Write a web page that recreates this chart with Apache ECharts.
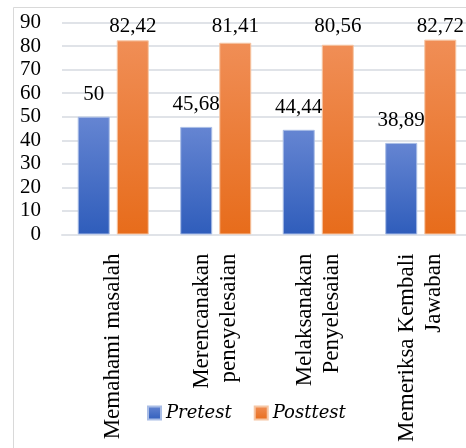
<!DOCTYPE html>
<html>
<head>
<meta charset="utf-8">
<script src="https://cdn.jsdelivr.net/npm/echarts@6/dist/echarts.min.js"></script>
<style>html,body{margin:0;padding:0;background:#fff}#c{width:466px;height:448px}</style>
</head>
<body>
<div id="c"></div>
<script>
var categories = ['Memahami masalah', 'Merencanakan\npeneyelesaian', 'Melaksanakan\nPenyelesaian', 'Memeriksa Kembali\nJawaban'];
var pretest = [50, 45.68, 44.44, 38.89];
var posttest = [82.42, 81.41, 80.56, 82.72];
var yTicks = [0, 10, 20, 30, 40, 50, 60, 70, 80, 90];

var FONT = 'Liberation Serif';
var ITALIC_FONT = 'DejaVu Serif';
var CAT_SIZE = 23;
function grad(top, bottom) {
  return new echarts.graphic.LinearGradient(0, 0, 0, 1, [
    { offset: 0, color: top }, { offset: 1, color: bottom }
  ]);
}
function fmtNum(v) { return String(v).replace('.', ','); }

// centre shorter lines of each category label with a transparent leading filler token
var ctx = document.createElement('canvas').getContext('2d');
ctx.font = CAT_SIZE + 'px "' + FONT + '"';
var spaceW = ctx.measureText('\u00a0').width || CAT_SIZE * 0.25;
var rich = { c: { fontFamily: FONT, fontSize: CAT_SIZE, lineHeight: 27, color: '#000' } };
var catText = {};
categories.forEach(function (cat, ci) {
  var lines = cat.split('\n');
  var widths = lines.map(function (s) { return ctx.measureText(s).width; });
  var maxW = Math.max.apply(null, widths);
  catText[cat] = lines.map(function (s, li) {
    var pad = (maxW - widths[li]) / 2;
    var out = '';
    if (pad > 1) {
      var key = 'f' + ci + '_' + li;
      var n = Math.max(1, Math.round(pad / spaceW));
      rich[key] = { fontFamily: FONT, fontSize: CAT_SIZE, lineHeight: 27, color: 'rgba(0,0,0,0)', width: pad };
      out += '{' + key + '|' + new Array(n + 1).join('\u00a0') + '}';
    }
    return out + '{c|' + s + '}';
  }).join('\n');
});

var chart = echarts.init(document.getElementById('c'), null, { renderer: 'canvas' });
chart.setOption({
  animation: false,
  backgroundColor: '#fff',
  textStyle: { fontFamily: FONT },
  graphic: [{
    type: 'rect', silent: true, z: -10,
    shape: { x: 13.5, y: 7.5, width: 600, height: 600 },
    style: { fill: 'none', stroke: '#d9d9d9', lineWidth: 1 }
  }],
  grid: { left: 62, top: 22.5, width: 410, height: 212, outerBoundsMode: 'none', containLabel: false },
  legend: {
    left: 147, top: 404, padding: 0,
    itemWidth: 13, itemHeight: 13, itemGap: 22,
    icon: 'rect',
    textStyle: { fontFamily: ITALIC_FONT, fontSize: 18, fontStyle: 'italic', color: '#000' },
    data: ['Pretest', 'Posttest']
  },
  xAxis: {
    type: 'category',
    data: categories,
    axisLine: { lineStyle: { color: '#e0e3e8', width: 2 } },
    axisTick: { show: false },
    axisLabel: {
      rotate: 90, margin: 19, interval: 0,
      formatter: function (v) { return catText[v]; },
      rich: rich
    }
  },
  yAxis: {
    type: 'value', min: yTicks[0], max: yTicks[yTicks.length - 1], interval: 10,
    axisLine: { show: false }, axisTick: { show: false },
    splitLine: { lineStyle: { color: '#e0e3e8', width: 2 } },
    axisLabel: { fontFamily: FONT, fontSize: 21, color: '#000', margin: 21 }
  },
  series: [{
    name: 'Pretest', type: 'bar', data: pretest,
    barWidth: 32, barGap: '22%',
    itemStyle: { color: grad('#6585d2', '#2f5dbb'), borderColor: '#a9bde6', borderWidth: 1 },
    label: { show: true, position: 'top', distance: 12, fontFamily: FONT, fontSize: 21, color: '#000',
      formatter: function (p) { return fmtNum(p.value); } }
  }, {
    name: 'Posttest', type: 'bar', data: posttest,
    barWidth: 32,
    itemStyle: { color: grad('#f08e56', '#e76c1b'), borderColor: '#f6c6a4', borderWidth: 1 },
    label: { show: true, position: 'top', distance: 8, fontFamily: FONT, fontSize: 21, color: '#000',
      formatter: function (p) { return fmtNum(p.value); } },
    labelLayout: function () { return { y: 16, verticalAlign: 'top', align: 'center' }; }
  }],
  color: ['#3d68c4', '#ed7a2f']
});
</script>
</body>
</html>
